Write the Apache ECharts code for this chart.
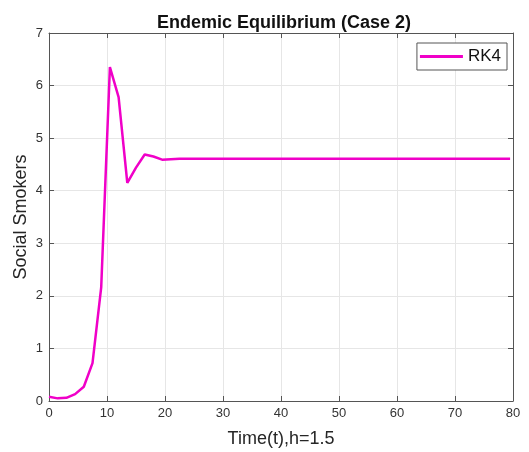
<!DOCTYPE html>
<html>
<head>
<meta charset="utf-8">
<script src="https://cdn.jsdelivr.net/npm/echarts@6/dist/echarts.min.js"></script>
<style>html,body{margin:0;padding:0;background:#fff;}#c{width:529px;height:452px;}</style>
</head>
<body>
<div id="c"></div>
<script>
const times = [0,1.5,3,4.5,6,7.5,9,10.5,12,13.5,15,16.5,18,19.5,21,22.5,24,25.5,27,28.5,30,31.5,33,34.5,36,37.5,39,40.5,42,43.5,45,46.5,48,49.5,51,52.5,54,55.5,57,58.5,60,61.5,63,64.5,66,67.5,69,70.5,72,73.5,75,76.5,78,79.5];
const rk4 = [0.08,0.05,0.06,0.13,0.27,0.72,2.16,6.35,5.78,4.15,4.44,4.69,4.65,4.59,4.60,4.61,4.61,4.61,4.61,4.61,4.61,4.61,4.61,4.61,4.61,4.61,4.61,4.61,4.61,4.61,4.61,4.61,4.61,4.61,4.61,4.61,4.61,4.61,4.61,4.61,4.61,4.61,4.61,4.61,4.61,4.61,4.61,4.61,4.61,4.61,4.61,4.61,4.61,4.61];
const xTicks = [0,10,20,30,40,50,60,70,80];
const yTicks = [0,1,2,3,4,5,6,7];

const axisColor = '#555555';
const font = 'Liberation Sans, Arial, Helvetica, sans-serif';
const chart = echarts.init(document.getElementById('c'));
const pts = times.map((t,i)=>[t, rk4[i]]);
chart.setOption({
  animation: false,
  title: {
    text: 'Endemic Equilibrium (Case 2)',
    left: 279, top: 9, textAlign: 'center',
    textStyle: {fontFamily: font, fontSize: 18, fontWeight: 'bold', color: '#111'}
  },
  grid: {left: 49, right: 16, top: 33, bottom: 51, containLabel: false, outerBoundsMode: 'none'},
  legend: {
    right: 22, top: 43,
    data: [{name: 'RK4', icon: 'rect'}],
    itemWidth: 43, itemHeight: 3,
    itemGap: 5,
    padding: [5, 6, 5, 3],
    borderColor: '#555', borderWidth: 1,
    backgroundColor: '#fff',
    textStyle: {fontFamily: font, fontSize: 17, color: '#111', padding: [0,0,0,0]}
  },
  xAxis: [{
    type: 'value', min: 0, max: 80, interval: 10,
    name: 'Time(t),h=1.5', nameLocation: 'middle', nameGap: 29, nameMoveOverlap: false,
    nameTextStyle: {fontFamily: font, fontSize: 18, color: '#262626'},
    axisLine: {show: true, onZero: false, lineStyle: {color: axisColor, width: 1}},
    axisTick: {show: true, inside: true, length: 5, lineStyle: {color: axisColor}},
    axisLabel: {fontFamily: font, fontSize: 13, color: '#333', margin: 6},
    splitLine: {show: true, lineStyle: {color: '#e6e6e6', width: 1}}
  },{
    type: 'value', min: 0, max: 80, interval: 10, position: 'top',
    axisLine: {show: true, onZero: false, lineStyle: {color: axisColor, width: 1}},
    axisTick: {show: true, inside: true, length: 5, lineStyle: {color: axisColor}},
    axisLabel: {show: false}, splitLine: {show: false}
  }],
  yAxis: [{
    type: 'value', min: 0, max: 7, interval: 1,
    name: 'Social Smokers', nameLocation: 'middle', nameGap: 19, nameRotate: 90, nameMoveOverlap: false,
    nameTextStyle: {fontFamily: font, fontSize: 18, color: '#262626'},
    axisLine: {show: true, onZero: false, lineStyle: {color: axisColor, width: 1}},
    axisTick: {show: true, inside: true, length: 5, lineStyle: {color: axisColor}},
    axisLabel: {fontFamily: font, fontSize: 13, color: '#333', margin: 6},
    splitLine: {show: true, lineStyle: {color: '#e6e6e6', width: 1}}
  },{
    type: 'value', min: 0, max: 7, interval: 1, position: 'right',
    axisLine: {show: true, onZero: false, lineStyle: {color: axisColor, width: 1}},
    axisTick: {show: true, inside: true, length: 5, lineStyle: {color: axisColor}},
    axisLabel: {show: false}, splitLine: {show: false}
  }],
  series: [{
    name: 'RK4', type: 'line', data: pts,
    showSymbol: false, symbol: 'none',
    lineStyle: {color: '#f000c8', width: 2.5},
    itemStyle: {color: '#f000c8'}
  }]
});
</script>
</body>
</html>
